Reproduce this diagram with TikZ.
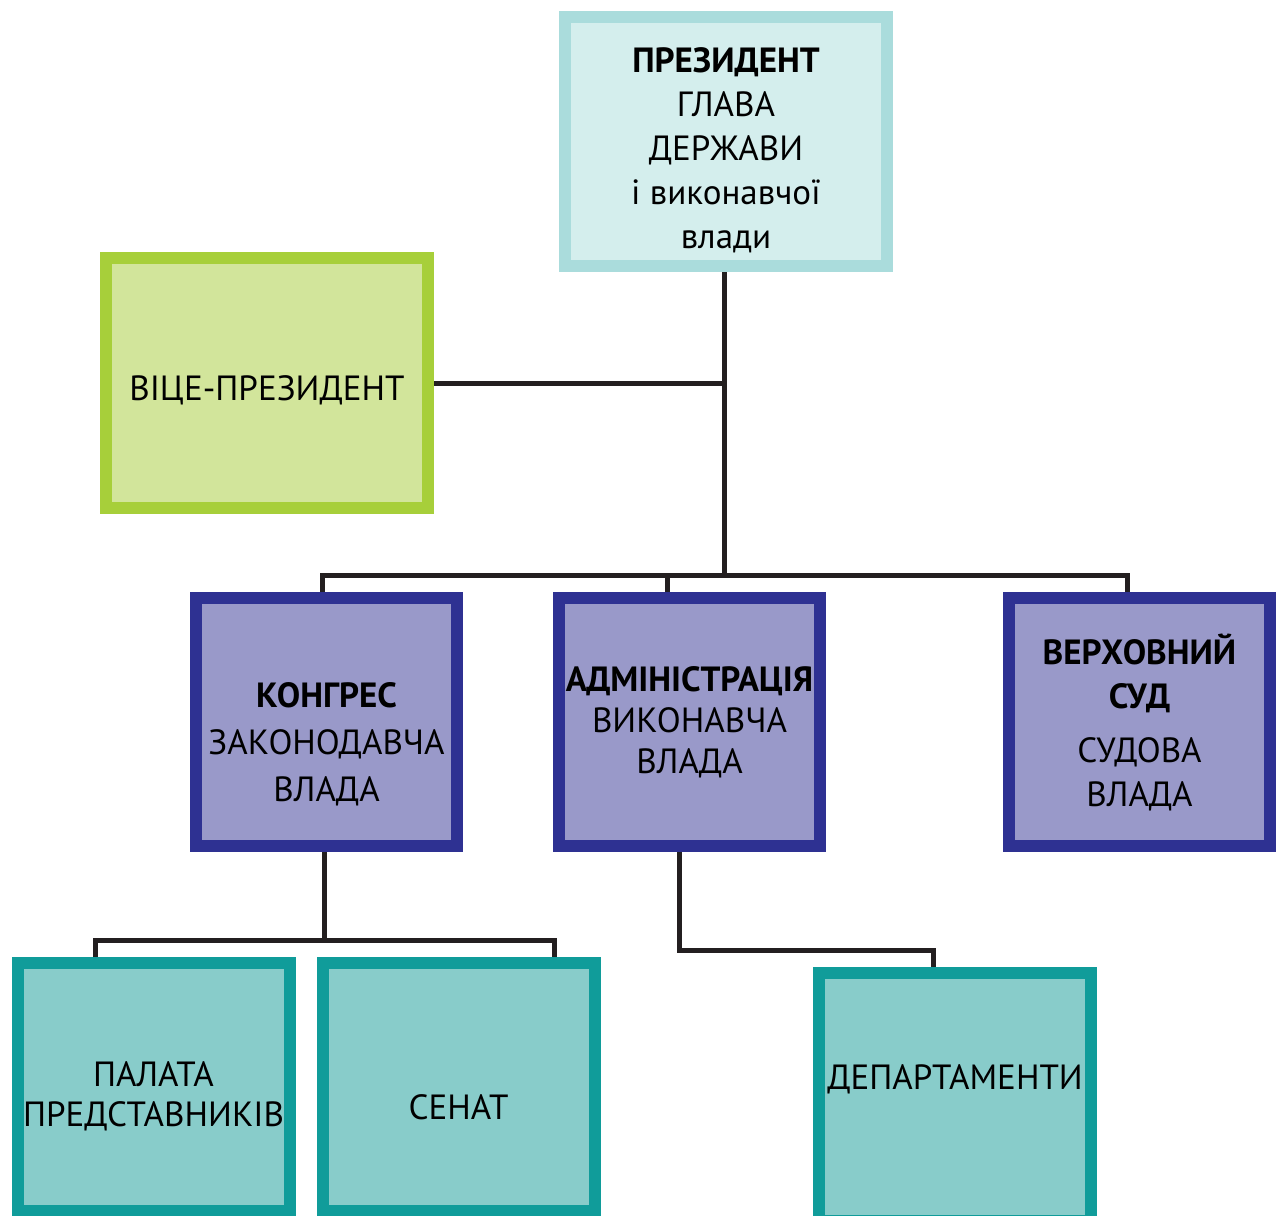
\documentclass[tikz,border=0pt]{standalone}
\usepackage{fontspec}
\setmainfont{PT Sans}
\definecolor{presline}{HTML}{AADCDC}
\definecolor{presfill}{HTML}{D4EEED}
\definecolor{viceline}{HTML}{A7CF3A}
\definecolor{vicefill}{HTML}{D2E59B}
\definecolor{govline}{HTML}{2E3192}
\definecolor{govfill}{HTML}{9999C9}
\definecolor{subline}{HTML}{109C9A}
\definecolor{subfill}{HTML}{88CCCA}
\definecolor{wire}{HTML}{231F20}
\tikzset{
  box/.style={rectangle, line width=6pt, align=center, inner sep=0pt,
    font=\fontsize{17.5}{22}\selectfont},
  head/.style={box, draw=presline, fill=presfill, minimum width=161pt, minimum height=124.5pt},
  vice/.style={box, draw=viceline, fill=vicefill, minimum width=161pt, minimum height=125pt},
  branch/.style={box, draw=govline, fill=govfill, minimum width=130.5pt, minimum height=124pt},
  sub/.style={box, draw=subline, fill=subfill, minimum width=136pt, minimum height=124pt},
  link/.style={line width=2.5pt, draw=wire},
}

\begin{document}
\begin{tikzpicture}[x=0.5pt, y=-0.5pt]
\useasboundingbox (0,0) rectangle (1276,1216);
% top
\node[head] (pres) at (726,141.5) {\rule{0pt}{21pt}\textbf{ПРЕЗИДЕНТ}\\ГЛАВА\\ДЕРЖАВИ\\і виконавчої\\влади};
\node[vice] (vp)   at (267,383)   {\rule{0pt}{20pt}ВІЦЕ-ПРЕЗИДЕНТ};
% branches
\node[branch] (cong) at (326.5,722)  {\rule{0pt}{35pt}\textbf{КОНГРЕС}\\[1.5pt]ЗАКОНОДАВЧА\\[1.5pt]ВЛАДА};
\node[branch] (adm)  at (689.5,722)  {\textbf{АДМІНІСТРАЦІЯ}\\[-1.5pt]ВИКОНАВЧА\\[-1.5pt]ВЛАДА};
\node[branch] (sud)  at (1139.5,722) {\textbf{ВЕРХОВНИЙ}\\\textbf{СУД}\\[5pt]СУДОВА\\ВЛАДА};
% lower level
\node[sub] (pal) at (153.5,1087) {\rule{0pt}{22pt}ПАЛАТА\\[-2pt]ПРЕДСТАВНИКІВ};
\node[sub] (sen) at (458.5,1087) {\rule{0pt}{33pt}СЕНАТ};
\node[sub] (dep) at (955,1097)   {ДЕПАРТАМЕНТИ\rule[-20pt]{0pt}{20pt}};
% connectors
\coordinate (bus)  at (724,575);
\coordinate (cbus) at (324,940);
\draw[link] (pres.south -| bus) -- (bus);
\draw[link] (vp.east) -- (vp.east -| bus);
\draw[link] ([xshift=-2pt]cong.north) |- (bus) -| ([xshift=-6pt]sud.north);
\draw[link] ([xshift=-11pt]adm.north) -- ([xshift=-11pt]adm.north |- bus);
\draw[link] (cong.south -| cbus) -- (cbus);
\draw[link] ([xshift=-29pt]pal.north) |- (cbus) -| ([xshift=48pt]sen.north);
\draw[link] ([xshift=-5pt]adm.south) -- ++(0,98) -| ([xshift=-11pt]dep.north);
\end{tikzpicture}
\end{document}
